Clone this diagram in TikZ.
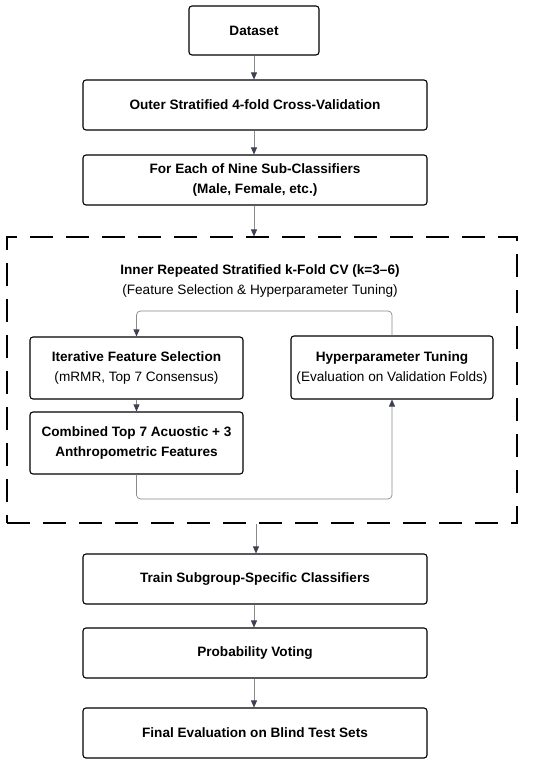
\documentclass[tikz,border=0pt]{standalone}
\usepackage{fontspec}
\setmainfont{Liberation Sans}
\usetikzlibrary{arrows.meta}
\definecolor{linegray}{HTML}{8A8A8A}
\definecolor{tipgray}{HTML}{3B4150}
\tikzset{
  procbox/.style={draw=black, line width=1.1pt, rounded corners=3pt, align=center,
    inner sep=0pt, font=\fontsize{13.6}{20}\selectfont},
  flow/.style={draw=linegray, line width=0.7pt, -{Triangle[length=7pt,width=6pt,fill=tipgray,color=tipgray]}},
  dashbox/.style={draw=black, line width=1.1pt, dash pattern=on 23pt off 13pt},
}
\begin{document}
\begin{tikzpicture}[x=1pt,y=-1pt]
\useasboundingbox[fill=white] (0,0) rectangle (550,766);
% main column
\node[procbox, minimum width=130pt, minimum height=49pt] (ds) at (254,30.5) {\textbf{Dataset}};
\node[procbox, minimum width=344pt, minimum height=50pt] (outer) at (255,105) {\textbf{Outer Stratified 4-fold Cross-Validation}};
\node[procbox, minimum width=344pt, minimum height=50pt] (sub) at (255,180) {\textbf{For Each of Nine Sub-Classifiers}\\\textbf{(Male, Female, etc.)}};
% dashed container
\node[dashbox, minimum width=510pt, minimum height=286pt, inner sep=0pt] (inner) at (262,380) {};
\node[align=center, font=\fontsize{13.6}{20}\selectfont, inner sep=0pt] (title) at (260,280.5) {\textbf{Inner Repeated Stratified k-Fold CV (k=3–6)}\\(Feature Selection \& Hyperparameter Tuning)};
\node[procbox, minimum width=213pt, minimum height=62pt] (fs) at (136.5,368) {\textbf{Iterative Feature Selection}\\(mRMR, Top 7 Consensus)};
\node[procbox, minimum width=213pt, minimum height=62pt] (comb) at (136.5,443) {\textbf{Combined Top 7 Acuostic + 3}\\\textbf{Anthropometric Features}};
\node[procbox, minimum width=202pt, minimum height=63pt] (hp) at (392,367.5) {\textbf{Hyperparameter Tuning}\\(Evaluation on Validation Folds)};
% lower column
\node[procbox, minimum width=344pt, minimum height=50pt] (train) at (255,579) {\textbf{Train Subgroup-Specific Classifiers}};
\node[procbox, minimum width=344pt, minimum height=50pt] (vote) at (255,653) {\textbf{Probability Voting}};
\node[procbox, minimum width=344pt, minimum height=50pt] (final) at (255,733) {\textbf{Final Evaluation on Blind Test Sets}};
% connectors
\coordinate (looptop) at (392,311);
\coordinate (loopbot) at (392,499);
\draw[flow] (ds.south) -- (outer.north -| ds.south);
\draw[flow] (outer.south -| ds.south) -- (sub.north -| ds.south);
\draw[flow] (sub.south -| ds.south) -- (inner.north -| ds.south);
\draw[flow] (fs.south) -- (comb.north);
\draw[flow, rounded corners=4pt] (hp.north) |- (looptop -| fs.north) -- (fs.north);
\draw[flow, rounded corners=4pt] (comb.south) |- (loopbot) -- (hp.south);
\draw[flow] (inner.south -| 256,0) -- (train.north -| 256,0);
\draw[flow] (train.south -| ds.south) -- (vote.north -| ds.south);
\draw[flow] (vote.south -| ds.south) -- (final.north -| ds.south);
\end{tikzpicture}
\end{document}
